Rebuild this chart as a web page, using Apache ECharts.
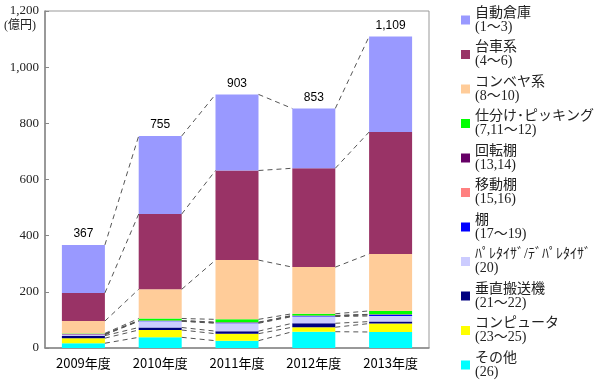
<!DOCTYPE html>
<html><head><meta charset="utf-8">
<script src="https://cdn.jsdelivr.net/npm/echarts@6/dist/echarts.min.js"></script>
<style>html,body{margin:0;padding:0;background:#fff}#c{width:600px;height:381px}</style>
</head><body><div id="c"></div>
<script>
const categories = ['2009年度','2010年度','2011年度','2012年度','2013年度'];
const totals = [367, 755, 903, 853, 1109];
// stack order from bottom to top
const sonota      = [17, 38, 26, 58, 57];
const computer    = [18, 26, 25, 16, 30];
const suichoku    = [9, 9, 9, 14, 7];
const paletizer   = [3, 22, 28, 24, 20];
const tana        = [1, 1, 2, 2, 4];
const idoTana     = [1, 1, 1, 1, 1];
const kaitenTana  = [1, 1, 1, 1, 1];
const shiwake     = [2, 7, 10, 6, 12];
const conveyor    = [44, 104, 211, 166, 203];
const daisha      = [100, 268, 319, 352, 434];
const jidoSoko    = [171, 278, 271, 213, 340];

const seriesDefs = [
  {name:'その他', code:'(26)', data:sonota, color:'#00FFFF'},
  {name:'コンピュータ', code:'(23～25)', data:computer, color:'#FFFF00'},
  {name:'垂直搬送機', code:'(21～22)', data:suichoku, color:'#000080'},
  {name:'ﾊﾟﾚﾀｲｻﾞ/ﾃﾞﾊﾟﾚﾀｲｻﾞ', code:'(20)', data:paletizer, color:'#CCCCFF'},
  {name:'棚', code:'(17～19)', data:tana, color:'#0000FF'},
  {name:'移動棚', code:'(15,16)', data:idoTana, color:'#FF8080'},
  {name:'回転棚', code:'(13,14)', data:kaitenTana, color:'#660066'},
  {name:'仕分け･ピッキング', code:'(7,11～12)', data:shiwake, color:'#00FF00'},
  {name:'コンベヤ系', code:'(8～10)', data:conveyor, color:'#FFCC99'},
  {name:'台車系', code:'(4～6)', data:daisha, color:'#993366'},
  {name:'自動倉庫', code:'(1～3)', data:jidoSoko, color:'#9999FF'}
];
const BAR_RATIO = 0.56;
const codeMap = {};
seriesDefs.forEach(s => codeMap[s.name] = s.code);

// cumulative tops for series lines
const lineData = [];
const cum = categories.map(() => 0);
seriesDefs.forEach(s => {
  s.data.forEach((v, i) => cum[i] += v);
  for (let i = 0; i < categories.length - 1; i++) lineData.push([i, cum[i], cum[i + 1]]);
});

const series = seriesDefs.map((s, idx) => ({
  name: s.name, type: 'bar', stack: 'all', data: s.data,
  barWidth: (BAR_RATIO * 100) + '%',
  itemStyle: {color: s.color},
  label: idx === seriesDefs.length - 1 ? {
    show: true, position: 'top', distance: 5,
    formatter: p => totals[p.dataIndex].toLocaleString('en-US'),
    color: '#000', fontSize: 12, fontFamily: 'Liberation Sans, Arial', fontWeight: 'normal'
  } : {show: false}
}));
series.push({
  type: 'custom', silent: true, z: 5,
  data: lineData,
  renderItem: (params, api) => {
    const i = api.value(0);
    const p1 = api.coord([i, api.value(1)]);
    const p2 = api.coord([i + 1, api.value(2)]);
    const half = api.size([1, 0])[0] * BAR_RATIO / 2;
    return {type: 'line', shape: {x1: p1[0] + half, y1: p1[1], x2: p2[0] - half, y2: p2[1]},
      style: {stroke: '#555', lineWidth: 1, lineDash: [5, 4]}};
  }
});

const chart = echarts.init(document.getElementById('c'));
chart.setOption({
  animation: false,
  grid: {left: 45, right: 171, top: 11, bottom: 33, show: true, borderColor: '#999', borderWidth: 1},
  legend: {
    orient: 'vertical', left: 456, top: -6, height: 420,
    data: seriesDefs.map(s => s.name).reverse(),
    itemWidth: 9, itemHeight: 9, itemGap: -7.5,
    icon: 'rect', selectedMode: false,
    formatter: n => n + '\n' + codeMap[n],
    textStyle: {fontSize: 14, lineHeight: 14, padding: [14, 0, 0, 0], color: '#222',
      fontFamily: 'Liberation Serif, Noto Sans CJK JP'}
  },
  xAxis: {
    type: 'category', data: categories,
    axisLine: {lineStyle: {color: '#888', width: 1.5}},
    axisTick: {inside: true, length: 6, lineStyle: {color: '#888'}},
    axisLabel: {color: '#000', fontSize: 13, margin: 9, fontFamily: 'Noto Sans CJK JP'}
  },
  yAxis: {
    type: 'value', min: 0, max: 1200, interval: 200,
    splitLine: {show: false},
    axisLine: {show: true, lineStyle: {color: '#888', width: 1.5}},
    axisTick: {show: true, inside: true, length: 4, lineStyle: {color: '#888'}},
    axisLabel: {color: '#222', fontSize: 13, margin: 6, fontFamily: 'Liberation Serif',
      formatter: v => v.toLocaleString('en-US')}
  },
  graphic: [{type: 'text', left: 4, top: 20,
    style: {text: '(億円)', fontSize: 12, fill: '#222', fontFamily: 'Liberation Serif, Noto Sans CJK JP'}}],
  series: series
});
</script></body></html>
